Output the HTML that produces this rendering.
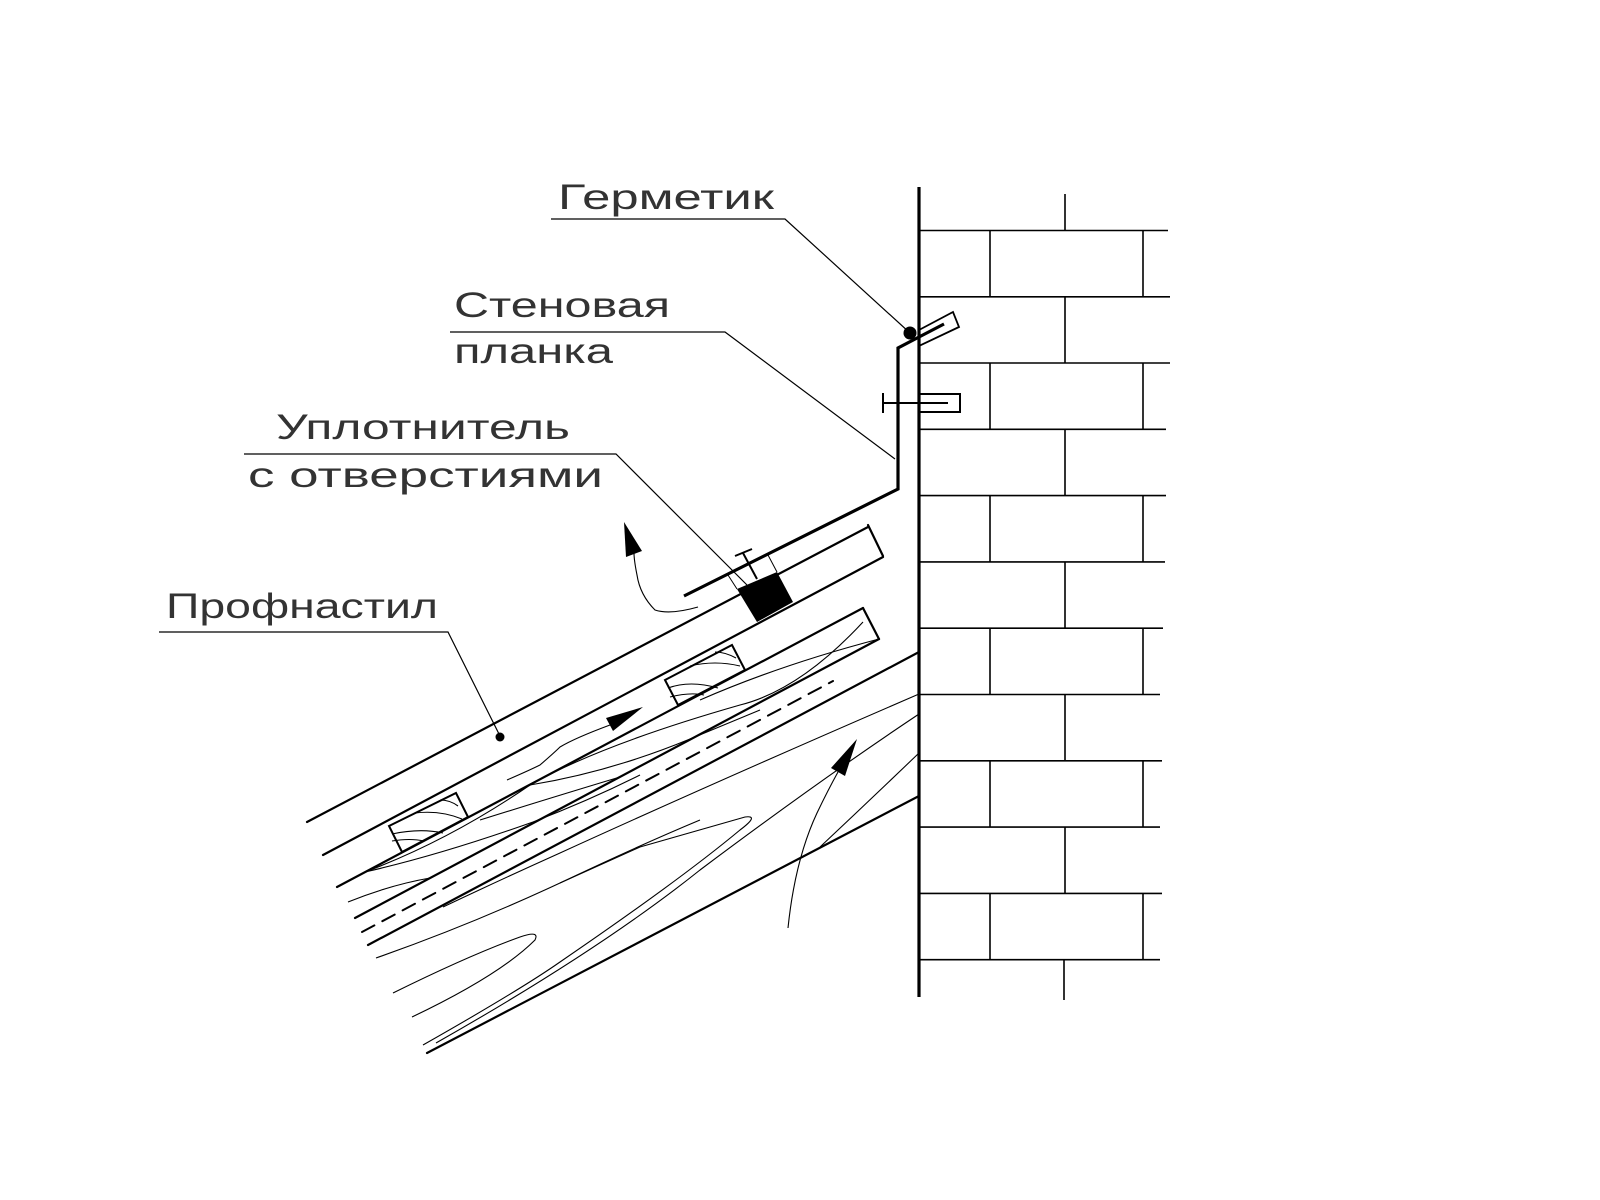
<!DOCTYPE html>
<html><head><meta charset="utf-8"><style>
html,body{margin:0;padding:0;background:#fff;}
svg{display:block;}
text{font-family:"Liberation Sans","DejaVu Sans",sans-serif;font-size:35px;fill:#333;}
</style></head><body>
<svg width="1600" height="1200" viewBox="0 0 1600 1200" xmlns="http://www.w3.org/2000/svg">
<rect width="1600" height="1200" fill="#fff"/>

<!-- Brick wall -->
<g stroke="#000" stroke-width="1.6" fill="none">
<line x1="919" y1="187" x2="919" y2="997" stroke-width="3.2"/>
<line x1="919" y1="230.5" x2="1168" y2="230.5"/>
<line x1="919" y1="296.8" x2="1170" y2="296.8"/>
<line x1="919" y1="363" x2="1170" y2="363"/>
<line x1="919" y1="429.3" x2="1166" y2="429.3"/>
<line x1="919" y1="495.6" x2="1166" y2="495.6"/>
<line x1="919" y1="561.9" x2="1165" y2="561.9"/>
<line x1="919" y1="628.2" x2="1163" y2="628.2"/>
<line x1="919" y1="694.5" x2="1160" y2="694.5"/>
<line x1="919" y1="760.8" x2="1162" y2="760.8"/>
<line x1="919" y1="827.1" x2="1160" y2="827.1"/>
<line x1="919" y1="893.4" x2="1162" y2="893.4"/>
<line x1="919" y1="959.7" x2="1160" y2="959.7"/>
<line x1="1065" y1="194" x2="1065" y2="230.5"/>
<line x1="990" y1="230.5" x2="990" y2="296.8"/><line x1="1143" y1="230.5" x2="1143" y2="296.8"/>
<line x1="1065" y1="296.8" x2="1065" y2="363"/>
<line x1="990" y1="363" x2="990" y2="429.3"/><line x1="1143" y1="363" x2="1143" y2="429.3"/>
<line x1="1065" y1="429.3" x2="1065" y2="495.6"/>
<line x1="990" y1="495.6" x2="990" y2="561.9"/><line x1="1143" y1="495.6" x2="1143" y2="561.9"/>
<line x1="1065" y1="561.9" x2="1065" y2="628.2"/>
<line x1="990" y1="628.2" x2="990" y2="694.5"/><line x1="1143" y1="628.2" x2="1143" y2="694.5"/>
<line x1="1065" y1="694.5" x2="1065" y2="760.8"/>
<line x1="990" y1="760.8" x2="990" y2="827.1"/><line x1="1143" y1="760.8" x2="1143" y2="827.1"/>
<line x1="1065" y1="827.1" x2="1065" y2="893.4"/>
<line x1="990" y1="893.4" x2="990" y2="959.7"/><line x1="1143" y1="893.4" x2="1143" y2="959.7"/>
<line x1="1064" y1="959.7" x2="1064" y2="1000"/>
</g>

<!-- Roof main lines -->
<g stroke="#000" stroke-width="2.2" fill="none" stroke-linecap="round">
<line x1="307" y1="822" x2="868" y2="527"/>
<line x1="323" y1="855" x2="883" y2="557"/>
<polyline points="868,525 883,556"/>
<line x1="337" y1="887" x2="863" y2="608"/>
<polyline points="863,608 879,639"/>
<line x1="355" y1="918" x2="879" y2="639"/>
<line x1="368" y1="945" x2="919" y2="652"/>
<line x1="427" y1="1053" x2="919" y2="796"/>
<line x1="362" y1="932" x2="833" y2="681" stroke-width="2" stroke-dasharray="14 9"/>
</g>

<!-- Battens -->
<g stroke="#000" stroke-width="2" fill="#fff">
<polygon points="389,826 456,793 468,817 402,852"/>
<polygon points="665,680 732,645 745,670 678,705"/>
</g>
<g stroke="#000" stroke-width="1.1" fill="none">
<path d="M415,813 Q440,810 462,819"/><path d="M392,834 Q420,828 443,833"/><path d="M392,841 Q410,838 424,841"/><path d="M440,800 Q450,800 458,806"/>
<path d="M690,666 Q715,660 740,666"/><path d="M668,688 Q690,680 718,688"/><path d="M670,697 Q690,692 704,695"/><path d="M715,652 Q725,652 736,658"/>
</g>

<!-- Seal + screw -->
<polygon points="737,589 777,572 793,602 757,622" fill="#000"/>
<g stroke="#000" stroke-width="1" fill="none">
<line x1="728" y1="575" x2="737" y2="589"/>
<line x1="768" y1="555" x2="777" y2="572"/>
</g>
<g stroke="#000" stroke-width="2" fill="none">
<line x1="735" y1="556" x2="752" y2="549"/>
<line x1="743" y1="553" x2="757" y2="579"/>
</g>

<!-- Flashing -->
<polyline points="684,596 898,489 898,348 919,337 944,324" stroke="#000" stroke-width="3.2" fill="none" stroke-linejoin="miter"/>
<polygon points="919,330 953,312 959,327 919,346" stroke="#000" stroke-width="1.8" fill="none"/>
<circle cx="910" cy="333" r="6.5" fill="#000"/>
<!-- wall screw -->
<g stroke="#000" stroke-width="2" fill="none">
<polyline points="919,394 960,394 960,412 919,412"/>
<line x1="883" y1="403" x2="948" y2="403"/>
<line x1="883" y1="393" x2="883" y2="413"/>
</g>

<!-- Wood grain -->
<g stroke="#000" stroke-width="1.1" fill="none">
<path d="M365,872 Q450,840 530,785"/>
<path d="M365,872 Q440,855 533,822 Q590,800 640,775"/>
<path d="M348,902 Q390,885 430,878"/>
<path d="M530,785 Q600,745 740,705 Q800,690 863,622"/>
<path d="M530,785 Q610,772 690,739 L760,710"/>
<path d="M480,820 Q560,795 620,777"/>
<path d="M700,700 Q780,665 879,639"/>
<path d="M443,907 Q500,880 560,853 Q720,780 919,694"/>
<path d="M376,958 Q470,925 560,883 Q640,845 700,820"/>
<path d="M393,993 Q470,955 520,937 Q540,930 535,940 Q500,975 412,1017"/>
<path d="M423,1045 Q520,990 560,962 Q680,880 740,830 Q760,815 745,817 Q700,830 640,847 Q600,865 560,883"/>
<path d="M436,1043 Q600,950 700,870 Q820,780 919,714"/>
<path d="M820,847 Q870,800 919,753"/>
<path d="M507,780 Q530,770 540,765 Q555,752 560,747 Q575,738 610,725"/>
<path d="M788,928 Q795,860 817,813 Q828,790 838,772"/>
<path d="M698,607 Q670,615 655,610 Q640,595 637,575 Q634,560 634,553"/>
</g>
<!-- arrowheads -->
<g fill="#000">
<polygon points="643,707 606,718 613,731"/>
<polygon points="857,739 831,768 845,776"/>
<polygon points="624,522 626,557 642,551"/>
</g>

<!-- Leaders -->
<g stroke="#000" stroke-width="1.2" fill="none">
<polyline points="551,219 785,219 910,333"/>
<polyline points="450,332 725,332 895,459"/>
<polyline points="244,454 616,454 747,585"/>
<polyline points="159,632 448,632 500,736"/>
</g>
<circle cx="500" cy="737" r="4.5" fill="#000"/>

<!-- Labels -->
<text x="558" y="209" textLength="216" lengthAdjust="spacingAndGlyphs">Герметик</text>
<text x="454" y="317" textLength="216" lengthAdjust="spacingAndGlyphs">Стеновая</text>
<text x="454" y="363" textLength="159" lengthAdjust="spacingAndGlyphs">планка</text>
<text x="276" y="439" textLength="294" lengthAdjust="spacingAndGlyphs">Уплотнитель</text>
<text x="248" y="487" textLength="355" lengthAdjust="spacingAndGlyphs">с  отверстиями</text>
<text x="166" y="618" textLength="272" lengthAdjust="spacingAndGlyphs">Профнастил</text>
</svg>
</body></html>
